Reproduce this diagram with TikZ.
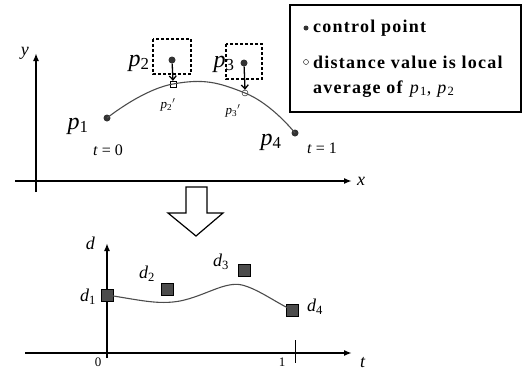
\documentclass[tikz,border=0pt]{standalone}
\usepackage{fontspec}
\setmainfont{Liberation Serif}
\newfontfamily\legendfont{Liberation Serif}[LetterSpace=7]
\usetikzlibrary{arrows.meta,positioning}
\newcommand{\varlbl}[2]{\textit{#1}\textsubscript{#2}}
\tikzset{
  axis/.style={line width=1.6pt,-{Latex[length=8pt,width=6pt]}},
  ctrl/.style={circle,fill=black!80,inner sep=0pt,minimum size=7pt},
  avgsq/.style={draw,fill=white,inner sep=0pt,minimum size=6pt},
  avgcirc/.style={circle,draw,fill=white,inner sep=0pt,minimum size=6pt},
  dsq/.style={draw,fill=black!70,inner sep=0pt,minimum size=12pt},
  zone/.style={draw,dashed,line width=1.2pt,dash pattern=on 3pt off 2pt},
  curve/.style={line width=1.1pt,black!70},
  biglbl/.style={font=\fontsize{24}{24}\selectfont},
  midlbl/.style={font=\fontsize{18}{18}\selectfont},
  smalllbl/.style={font=\fontsize{13}{13}\selectfont},
  lgtext/.style={anchor=west,inner sep=0pt,font=\legendfont\bfseries\fontsize{18}{18}\selectfont},
}
\begin{document}
\begin{tikzpicture}[x=1pt,y=-1pt]
    \useasboundingbox (0,0) rectangle (523,375);
    % upper plot: control points in the plane
    \draw[axis] (36,192) -- (36,53) node[pos=1,midlbl,left=3pt] (ylbl) {\textit{y}};
    \draw[axis] (15,181) -- (352,181) node[pos=1,midlbl,right=1pt] (xlbl) {\textit{x}};
    \draw[zone] (153,39) rectangle (191,74);
    \draw[zone] (226,44) rectangle (262,79);
    \node[ctrl] (p1) at (107,118) {};
    \node[ctrl] (p2) at (172,60) {};
    \node[ctrl] (p3) at (244,63) {};
    \node[ctrl] (p4) at (295,133) {};
    \node[avgsq] (p2s) at (173,84) {};
    \node[avgcirc] (p3s) at (245,93) {};
    \draw[curve] plot[smooth,tension=0.8] coordinates {(p1.center) (p2s.center) (p3s.center) (p4.center)};
    \draw[line width=1.3pt,-{Straight Barb[length=4pt,width=7pt]}] (p2) -- (p2s.north);
    \draw[line width=1.3pt,-{Straight Barb[length=4pt,width=7pt]}] (p3) -- (p3s.north);
    \node[biglbl] (p1lbl) at (78,126) {\varlbl{p}{1}};
    \node[biglbl] (p2lbl) at (139,63) {\varlbl{p}{2}};
    \node[biglbl] (p3lbl) at (224,64) {\varlbl{p}{3}};
    \node[biglbl] (p4lbl) at (271,142) {\varlbl{p}{4}};
    \node[smalllbl] (p2slbl) at (168,105) {\varlbl{p}{2}$'$};
    \node[smalllbl] (p3slbl) at (233,111) {\varlbl{p}{3}$'$};
    \node[font=\fontsize{16}{16}\selectfont] (t0) at (108,150) {\textit{t} = 0};
    \node[font=\fontsize{16}{16}\selectfont] (t1) at (322,148) {\textit{t} = 1};
    % legend
    \draw[line width=1.2pt] (290,5) rectangle (521,112);
    \node[circle,fill=black!80,inner sep=0pt,minimum size=5pt] (lgdot) at (306,28) {};
    \node[circle,draw,inner sep=0pt,minimum size=5pt] (lgcirc) at (306,62) {};
    \node[lgtext] (lg1) at (313,28) {control point};
    \node[lgtext] (lg2) at (313,62) {distance value is local};
    \node[lgtext] (lg3) at (313,89) {average of \textmd{\varlbl{p}{1}, \varlbl{p}{2}}};
    % hollow arrow
    \draw[line width=1.2pt,fill=white] (186,187) -- (207,187) -- (207,213) -- (223,213) -- (196,236) -- (168,213) -- (186,213) -- cycle;
    % lower plot: distance along t
    \draw[axis] (107,358) -- (107,243) node[pos=1,midlbl,left=8pt] (dlbl) {\textit{d}};
    \draw[axis] (25,353) -- (352,353) node[pos=1,midlbl,below right=0pt and 4pt] (tlbl) {\textit{t}};
    \draw[line width=1pt] (295,340) -- (295,363);
    \node[smalllbl] (zero) at (98,362) {0};
    \node[smalllbl] (one) at (282,362) {1};
    \foreach \nm/\px/\py in {d1/107/295, d2/167/289, d3/244/270, d4/292/310} {
      \node[dsq] (\nm) at (\px,\py) {};
    }
    \draw[curve] (d1.center) .. controls (140,300) and (158,305) .. (180,301)
      .. controls (205,296) and (225,281) .. (242,285)
      .. controls (258,289) and (275,302) .. (d4.center);
    \node[midlbl] (d1lbl) at (88,297) {\varlbl{d}{1}};
    \node[midlbl] (d2lbl) at (147,274) {\varlbl{d}{2}};
    \node[midlbl] (d3lbl) at (221,262) {\varlbl{d}{3}};
    \node[midlbl] (d4lbl) at (315,307) {\varlbl{d}{4}};
\end{tikzpicture}
\end{document}
